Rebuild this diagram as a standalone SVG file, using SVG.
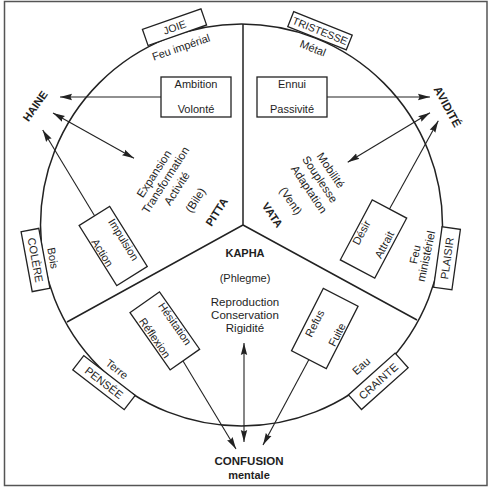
<svg xmlns="http://www.w3.org/2000/svg" width="490" height="492" viewBox="0 0 490 492">
<defs>
<marker id="ah" viewBox="0 0 12 8" refX="12" refY="4" markerWidth="12" markerHeight="8" markerUnits="userSpaceOnUse" orient="auto-start-reverse"><path d="M0,0.8 L12,4 L0,7.2 L1.5,4 Z" fill="#222"/></marker>
</defs>
<style>
text{font-family:"Liberation Sans",Arial,sans-serif;fill:#1e1e1e;text-anchor:middle;font-size:11px}
.b{font-weight:bold}
.m{font-size:11.5px}
.s{font-size:10.5px}
.box{fill:#fff;stroke:#222;stroke-width:1.3}
.arr{stroke:#222;stroke-width:1.1;fill:none;marker-end:url(#ah)}
.dbl{marker-start:url(#ah)}
.ln{stroke:#222;stroke-width:1.5;fill:none}
</style>
<rect width="490" height="492" fill="#fff"/>
<rect x="4.5" y="1.5" width="482.5" height="484" fill="#fff" stroke="#555" stroke-width="1.5"/>
<g id="wheel">
<circle cx="241.5" cy="225" r="201" class="ln"/>
<path class="ln" d="M243,24 L243,225 L67,322 M243,225 L417,320"/>
</g>
<g id="connectors">
<path class="arr" d="M161,97 L60,97"/>
<path class="arr dbl" d="M53,113 L134,158.3"/>
<path class="arr" d="M94.7,216 L42.7,130"/>
<path class="arr" d="M327,97 L430,97"/>
<path class="arr dbl" d="M430,112.7 L347.7,162.3"/>
<path class="arr" d="M389.5,209 L438.3,120.7"/>
<path class="arr" d="M183,361 L236,449"/>
<path class="arr" d="M308.8,359.7 L263,445"/>
<path class="arr dbl" d="M244,343 L244,442"/>
</g>
<g id="joie">
<g transform="translate(174.5,27.2) rotate(-19.3)"><rect class="box" x="-31" y="-8.5" width="62" height="17"/><text class="s" y="3.8">JOIE</text></g>
<text transform="translate(181,47) rotate(-19)" y="4">Feu impérial</text>
</g>
<g id="tristesse">
<g transform="translate(320,30.8) rotate(21.8)"><rect class="box" x="-31.5" y="-8" width="63" height="16"/><text class="s" y="3.8">TRISTESSE</text></g>
<text transform="translate(313,48) rotate(21.5)" y="4">Métal</text>
</g>
<g id="colere">
<g transform="translate(35.5,260) rotate(79.5)"><rect class="box" x="-30.5" y="-9" width="61" height="18"/><text y="4">COLÈRE</text></g>
<text transform="translate(53,258) rotate(80)" y="4">Bois</text>
</g>
<g id="plaisir">
<g transform="translate(447,258.3) rotate(-82)"><rect class="box" x="-30.5" y="-9.25" width="61" height="18.5"/><text y="4">PLAISIR</text></g>
<g transform="translate(420.4,255) rotate(-78)"><text x="-0.5" y="-1.5">Feu</text><text class="m" y="9.7">ministériel</text></g>
</g>
<g id="pensee">
<g transform="translate(104,382.7) rotate(37.7)"><rect class="box" x="-32.5" y="-9" width="65" height="18"/><text y="4">PENSÉE</text></g>
<text transform="translate(117,369) rotate(38)" y="4">Terre</text>
</g>
<g id="crainte">
<g transform="translate(378.3,381.3) rotate(-41.8)"><rect class="box" x="-31.3" y="-9.8" width="62.6" height="19.6"/><text y="4">CRAINTE</text></g>
<text transform="translate(361,366) rotate(-42)" y="4">Eau</text>
</g>
<g id="haine"><text class="b" transform="translate(35,106) rotate(-55)" y="4">HAINE</text></g>
<g id="avidite"><text class="b m" transform="translate(447.5,106.7) rotate(61.5)" y="4">AVIDITÉ</text></g>
<g id="confusion"><text class="b m" x="249" y="464.5">CONFUSION</text><text class="b" x="249" y="479">mentale</text></g>
<g id="ambition"><rect class="box" x="161" y="77" width="70" height="40"/><text x="196" y="88">Ambition</text><text x="196" y="113">Volonté</text></g>
<g id="ennui"><rect class="box" x="257" y="77" width="70" height="40"/><text x="292" y="88">Ennui</text><text x="292" y="113">Passivité</text></g>
<g id="impulsion" transform="translate(113.2,246) rotate(58)"><rect class="box" x="-35.5" y="-18" width="71" height="36"/><text y="-8.3">Impulsion</text><text y="16.5">Action</text></g>
<g id="desir" transform="translate(373.5,239) rotate(-62)"><rect class="box" x="-34" y="-19.5" width="68" height="39"/><text y="-9.8">Désir</text><text y="16">Attrait</text></g>
<g id="hesitation" transform="translate(164,331.5) rotate(55)"><rect class="box" x="-35" y="-19" width="70" height="36"/><text y="-9.5">Hésitation</text><text y="15">Réflexion</text></g>
<g id="refus" transform="translate(324.8,328.5) rotate(-63)"><rect class="box" x="-35" y="-19.5" width="70" height="39"/><text y="-7.5">Refus</text><text y="17.5">Fuite</text></g>
<g id="pitta" transform="translate(185,195) rotate(-57)">
<text class="m" x="1" y="-33.5">Expansion</text>
<text class="m" x="2" y="-20.5">Transformation</text>
<text class="m" x="1" y="-6.5">Activité</text>
<text class="m" x="1.5" y="15.5">(Bile)</text>
<text class="b" x="3" y="39.7">PITTA</text>
</g>
<g id="vata" transform="translate(300,195) rotate(56)">
<text class="m" x="-3.3" y="-35.3">Mobilité</text>
<text class="m" x="-1.9" y="-21.4">Souplesse</text>
<text class="m" x="0.3" y="-6.8">Adaptation</text>
<text class="m" x="-0.3" y="14.8">(Vent)</text>
<text class="b" x="1.2" y="38">VATA</text>
</g>
<g id="kapha">
<text class="b" x="245" y="257">KAPHA</text>
<text x="245" y="282">(Phlegme)</text>
<text class="m" x="245" y="306">Reproduction</text>
<text class="m" x="245" y="319">Conservation</text>
<text class="m" x="245" y="332">Rigidité</text>
</g>
</svg>
